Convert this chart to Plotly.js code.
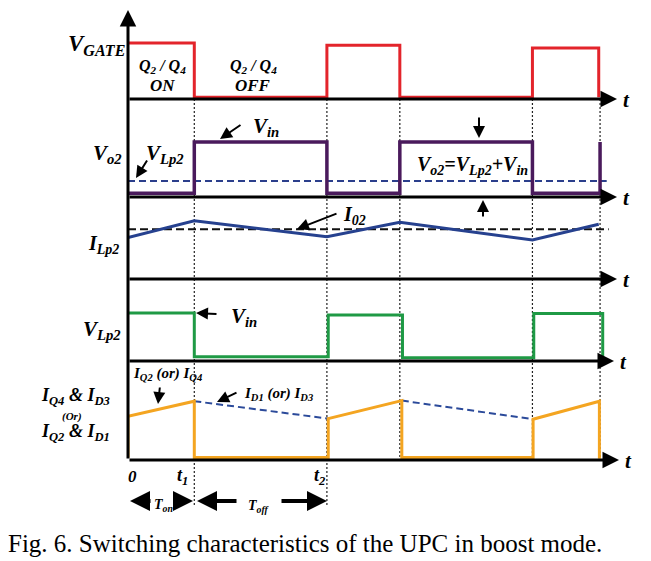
<!DOCTYPE html>
<html><head><meta charset="utf-8">
<script src="https://cdn.plot.ly/plotly-3.0.1.min.js"></script>
<style>html,body{margin:0;padding:0;background:#fff}</style>
</head><body>
<div id="chart" style="width:651px;height:561px"></div>
<script>
// ---------------- data (time in arbitrary units, levels in per-row units) ----------------
const switchTimes = [1, 3, 4.1, 6.1, 7.12];

const gateT = [0, 1, 1, 3, 3, 4.1, 4.1, 6.1, 6.1, 7.1, 7.1];
const gateV = [1, 1, 0.03, 0.03, 0.96, 0.96, 0.03, 0.03, 0.91, 0.91, 0.03];

const vo2T = [0, 1, 1, 3, 3, 4.1, 4.1, 6.1, 6.1, 7.12, 7.12];
const vo2V = [0.07, 0.07, 1, 1, 0.07, 0.07, 1, 1, 0.07, 0.07, 1];
const vlpRefT = [0, 7.22];
const vlpRefV = [0.29, 0.29];

const ilpT = [0, 1, 3, 4.1, 6.1, 7.1];
const ilpV = [0.504, 0.711, 0.516, 0.691, 0.476, 0.667];
const io2T = [0, 7.25];
const io2V = [0.606, 0.606];

const vlpT = [0, 1, 1, 3.02, 3.02, 4.14, 4.14, 6.12, 6.12, 7.16, 7.16];
const vlpV = [1, 1, 0.09, 0.09, 0.96, 0.96, 0.07, 0.07, 0.99, 0.99, 0.04];

const iqT = [0, 0, 1, 1, 3.02, 3.02, 4.13, 4.13, 6.11, 6.11, 7.11, 7.11];
const iqV = [0.04, 0.73, 0.98, 0.04, 0.04, 0.69, 0.99, 0.04, 0.04, 0.68, 0.98, 0.02];
const idT = [1, 3.02, null, 4.13, 6.11];
const idV = [0.98, 0.69, null, 0.99, 0.68];

// ---------------- layout geometry ----------------
const W = 651, H = 561, L = 128, R = 31, T = 10, B = 101;
const plotW = W - L - R, plotH = H - T - B;
const pxPerT = 66.3;
const px = x => (x - L) / plotW;
const py = y => (H - B - y) / plotH;
const tAt = x => (x - L) / pxPerT;

// rows: axis pixel, top pixel, pixels per unit
const rows = [
  {id: 'y',  axis: 99,  top: 10,  unit: 56, tip: 617},
  {id: 'y2', axis: 197, top: 99,  unit: 55, tip: 617},
  {id: 'y3', axis: 279, top: 197, unit: 82, tip: 617},
  {id: 'y4', axis: 361, top: 279, unit: 48, tip: 614},
  {id: 'y5', axis: 460, top: 361, unit: 60, tip: 619}
];

const ser = "Liberation Serif";
const traces = [
  {x: gateT, y: gateV, yaxis: 'y', line: {color: '#e3242b', width: 3}},
  {x: vlpRefT, y: vlpRefV, yaxis: 'y2', line: {color: '#2b3f8c', width: 2, dash: '7px,4px'}},
  {x: vo2T, y: vo2V, yaxis: 'y2', line: {color: '#4a1a5c', width: 3.5}},
  {x: io2T, y: io2V, yaxis: 'y3', line: {color: '#111', width: 2, dash: '8px,4px'}},
  {x: ilpT, y: ilpV, yaxis: 'y3', line: {color: '#26418f', width: 3}},
  {x: vlpT, y: vlpV, yaxis: 'y4', line: {color: '#1f9a45', width: 3}},
  {x: idT, y: idV, yaxis: 'y5', line: {color: '#2b4a9a', width: 2, dash: '7px,4px'}},
  {x: iqT, y: iqV, yaxis: 'y5', line: {color: '#f4a521', width: 3}}
].map(t => Object.assign({type: 'scatter', mode: 'lines', xaxis: 'x', hoverinfo: 'skip', showlegend: false}, t));

const layout = {
  width: W, height: H,
  margin: {l: L, r: R, t: T, b: B},
  paper_bgcolor: '#fff', plot_bgcolor: 'rgba(0,0,0,0)',
  showlegend: false,
  xaxis: {range: [0, plotW / pxPerT], visible: false, anchor: 'y5', fixedrange: true},
  shapes: [], annotations: []
};
rows.forEach((r, i) => {
  const key = i === 0 ? 'yaxis' : 'yaxis' + (i + 1);
  layout[key] = {domain: [py(r.axis), py(r.top)], range: [0, (r.axis - r.top) / r.unit], visible: false, fixedrange: true, anchor: 'x'};
  // time axis arrow for this row
  layout.annotations.push({xref: 'x', yref: r.id, x: tAt(r.tip), y: 0, axref: 'x', ayref: r.id, ax: 0, ay: 0,
    text: '', showarrow: true, arrowhead: 2, arrowsize: 1.1, arrowwidth: 3, arrowcolor: '#000'});
  layout.annotations.push({xref: 'paper', yref: 'paper', x: px(r.tip + 4), y: py(r.axis + 1), xanchor: 'left', yanchor: 'middle',
    text: '<b><i>t</i></b>', showarrow: false, font: {family: ser, size: 21, color: '#000'}});
});
// vertical axis
layout.annotations.push({xref: 'paper', yref: 'paper', x: 0, y: 1, ax: 0, ay: 450, text: '', showarrow: true,
  arrowhead: 2, arrowsize: 1.1, arrowwidth: 3, arrowcolor: '#000'});

// dotted switching instants
const dotBottom = [505, 505, 460, 460, 460];
switchTimes.forEach((t, i) => layout.shapes.push({type: 'line', xref: 'x', yref: 'paper', x0: t, x1: t,
  y0: py(99), y1: py(dotBottom[i]), layer: 'below', line: {color: '#222', width: 1.2, dash: '2px,2px'}}));

function lbl(text, x, y, size, xa, opts) {
  layout.annotations.push(Object.assign({xref: 'paper', yref: 'paper', x: px(x), y: py(y), xanchor: xa || 'center', yanchor: 'middle',
    text: '<b><i>' + text + '</i></b>', showarrow: false, font: {family: ser, size: size, color: '#000'}}, opts || {}));
}
function arrow(x0, y0, x1, y1, w, s) {
  layout.annotations.push({xref: 'paper', yref: 'paper', x: px(x1), y: py(y1), ax: x0 - x1, ay: y0 - y1, text: '',
    showarrow: true, arrowhead: 2, arrowsize: s || 1.2, arrowwidth: w || 2, arrowcolor: '#000'});
}

lbl('V<sub>GATE</sub>', 127, 45, 23, 'right');
lbl('Q<sub>2</sub> / Q<sub>4</sub>', 162, 66, 16);
lbl('ON', 162, 86, 17);
lbl('Q<sub>2</sub> / Q<sub>4</sub>', 253, 66, 16);
lbl('OFF', 253, 86, 17);
lbl('V<sub>in</sub>', 251, 127, 21, 'left');
arrow(242, 124, 220, 139);
lbl('V<sub>o2</sub>', 124, 154, 21, 'right');
lbl('V<sub>Lp2</sub>', 144, 154, 21, 'left');
arrow(148, 159, 136, 178);
arrow(479, 116, 479, 138);
lbl('V<sub>o2</sub>=V<sub>Lp2</sub>+V<sub>in</sub>', 472, 165, 20);
arrow(483, 218, 483, 200);
lbl('I<sub>02</sub>', 341, 216, 20, 'left');
arrow(338, 213, 297, 229);
lbl('I<sub>Lp2</sub>', 121, 245, 20, 'right');
lbl('V<sub>Lp2</sub>', 123, 330, 21, 'right');
lbl('V<sub>in</sub>', 229, 317, 21, 'left');
arrow(218, 314, 196, 313);
lbl('I<sub>Q4</sub> &amp; I<sub>D3</sub>', 112, 396, 18, 'right');
lbl('(Or)', 72, 416, 11);
lbl('I<sub>Q2</sub> &amp; I<sub>D1</sub>', 112, 432, 18, 'right');
lbl('I<sub>Q2</sub> (or) I<sub>Q4</sub>', 131, 374, 15, 'left');
arrow(160, 386, 158, 404);
lbl('I<sub>D1</sub> (or) I<sub>D3</sub>', 242, 394, 15, 'left');
arrow(238, 392, 217, 402);
lbl('0', 132, 476, 17);
lbl('t<sub>1</sub>', 182, 477, 18);
lbl('t<sub>2</sub>', 320, 477, 18);
arrow(152, 501, 130, 501, 4, 1);
arrow(175, 501, 193, 501, 4, 1);
lbl('T<sub>on</sub>', 163, 505, 14);
arrow(238, 501, 197, 501, 4, 1);
arrow(280, 501, 327, 501, 4, 1);
lbl('T<sub>off</sub>', 259, 506, 14);

// caption
layout.annotations.push({xref: 'paper', yref: 'paper', x: px(305), y: py(543), xanchor: 'center', yanchor: 'middle',
  text: 'Fig. 6. Switching characteristics of the UPC in boost mode.', showarrow: false,
  font: {family: ser, size: 25, color: '#000'}});

Plotly.newPlot('chart', traces, layout, {staticPlot: true, displayModeBar: false});
</script>
</body></html>
